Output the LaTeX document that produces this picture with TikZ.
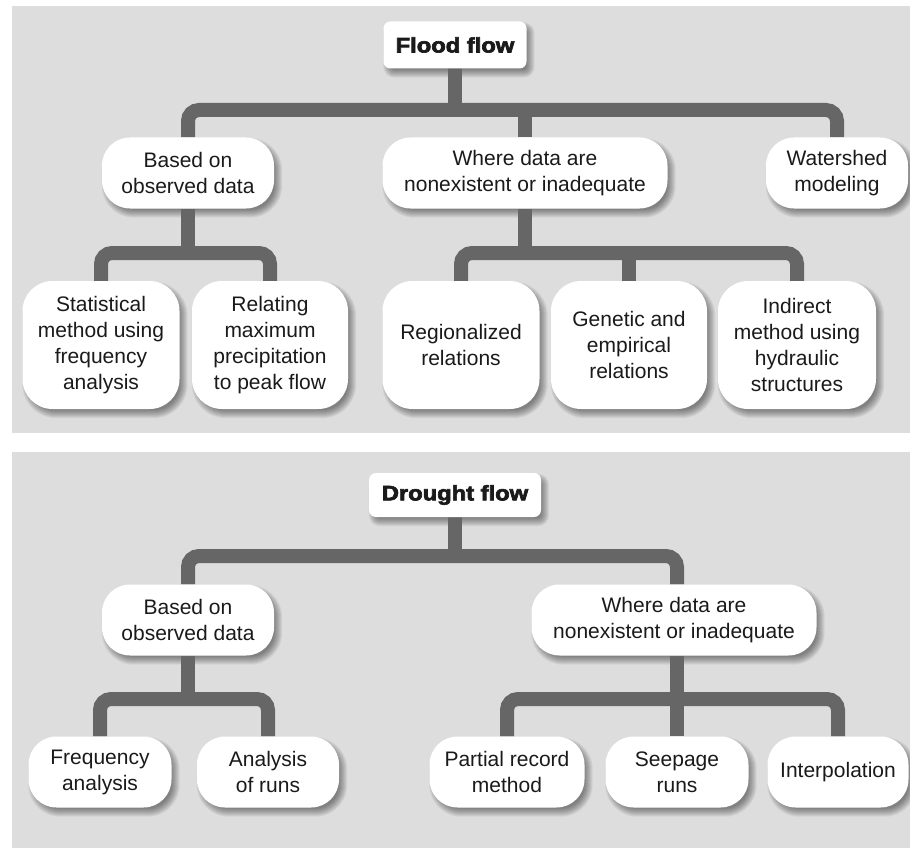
\documentclass[tikz,border=0pt]{standalone}
\usepackage{fontspec}
\usepackage{graphicx}
\setmainfont{Liberation Sans}
\newfontfamily\titlefont{Liberation Sans}[UprightFont={* Bold}, FakeBold=3]
\usetikzlibrary{calc}
\pgfdeclarelayer{bg}
\pgfdeclarelayer{shd}
\pgfdeclarelayer{conn}
\pgfsetlayers{bg,shd,conn,main}
\definecolor{panel}{HTML}{DDDDDD}
\definecolor{connc}{HTML}{666666}
\definecolor{txt}{HTML}{1A1A1A}
\newcommand\mytitle[1]{\scalebox{1.13}[1]{\titlefont #1}}
% soft shadow below and right of a node: #1 node name, #2 corner radius
\newcommand\softshadow[2]{%
  \begin{pgfonlayer}{shd}
  \foreach \d in {-4,-3,...,4}{
    \fill[black, fill opacity=0.055, rounded corners={(#2+\d)*1pt}]
      ($(#1.south west)+(4-\d,5+\d)$) rectangle ($(#1.north east)+(4+\d,5-\d)$);
  }
  \end{pgfonlayer}}
\begin{document}
\begin{tikzpicture}[x=1pt,y=-1pt,
  box/.style={draw=none, fill=white, rounded corners=#1, align=center, text=txt,
    inner sep=0pt, font=\fontsize{21}{26}\selectfont},
  box/.default=20pt,
  ttl/.style={box=7pt, minimum height=47pt},
  lvl/.style={box=28pt, minimum height=71pt},
  sub/.style={box=30pt, minimum height=128pt},
  conn/.style={draw=connc, line width=14pt, rounded corners=11pt}]
\useasboundingbox (0,0) rectangle (910,848);
\begin{pgfonlayer}{bg}
  \fill[white] (0,0) rectangle (910,848);
  \fill[panel] (12,6) rectangle (910,433);
  \fill[panel] (12,452) rectangle (910,848);
\end{pgfonlayer}

% ---- Flood flow ----
\node[ttl, minimum width=143pt] (ff) at (455,45) {\mytitle{Flood flow}};
\node[lvl, minimum width=172pt] (b1) at (188,173) {Based on\\observed data};
\node[lvl, minimum width=285pt] (w1) at (525,173) {Where data are\\nonexistent or inadequate};
\node[lvl, minimum width=142pt] (ws) at (837,173) {Watershed\\modeling};
\node[sub, minimum width=157pt] (s1) at (101,345) {Statistical\\method using\\frequency\\analysis};
\node[sub, minimum width=156pt] (r1) at (270,345) {Relating\\maximum\\precipitation\\to peak flow};
\node[sub, minimum width=157pt] (rg) at (461,345) {Regionalized\\relations};
\node[sub, minimum width=156pt] (ge) at (629,345) {Genetic and\\empirical\\relations};
\node[sub, minimum width=158pt] (id) at (797,345) {Indirect\\method using\\hydraulic\\structures};
\softshadow{ff}{7}
\softshadow{b1}{28}\softshadow{w1}{28}\softshadow{ws}{28}
\softshadow{s1}{30}\softshadow{r1}{30}\softshadow{rg}{30}\softshadow{ge}{30}\softshadow{id}{30}

\coordinate (j1) at (455,110);
\coordinate (j2) at (188,253);
\coordinate (j3) at (525,253);
\begin{pgfonlayer}{conn}
  \draw[conn] (ff.center) -- (j1);
  \draw[conn] (b1.north) |- (j1) -| (ws.north);
  \draw[conn] (w1.north) -- (w1.north |- j1);
  \draw[conn] (b1.south) -- (j2);
  \draw[conn] (s1.north) |- (j2) -| (r1.north);
  \draw[conn] (w1.south) -- (j3);
  \draw[conn] (rg.north) |- (j3) -| (id.north);
  \draw[conn] (ge.north) -- (ge.north |- j3);
\end{pgfonlayer}

% ---- Drought flow ----
\node[ttl, minimum width=172pt, minimum height=44pt] (df) at (455,495) {\mytitle{Drought flow}};
\node[lvl, minimum width=172pt] (b2) at (188,620) {Based on\\observed data};
\node[lvl, minimum width=285pt] (w2) at (674,620) {Where data are\\nonexistent or inadequate};
\node[lvl, minimum width=143pt] (fa) at (100,772) {Frequency\\analysis};
\node[lvl, minimum width=142pt] (ar) at (268,772) {Analysis\\of runs};
\node[lvl, minimum width=155pt] (pr) at (507,772) {Partial record\\method};
\node[lvl, minimum width=143pt] (sr) at (677,772) {Seepage\\runs};
\node[lvl, minimum width=141pt] (ip) at (838,772) {Interpolation};
\softshadow{df}{7}
\softshadow{b2}{28}\softshadow{w2}{28}
\softshadow{fa}{28}\softshadow{ar}{28}\softshadow{pr}{28}\softshadow{sr}{28}\softshadow{ip}{28}

\coordinate (j4) at (455,556);
\coordinate (j5) at (188,699);
\coordinate (j6) at (677,699);
\begin{pgfonlayer}{conn}
  \draw[conn] (df.center) -- (j4);
  \draw[conn] (b2.north) |- (j4) -| (sr.north |- w2.north);
  \draw[conn] (b2.south) -- (j5);
  \draw[conn] (fa.north) |- (j5) -| (ar.north);
  \draw[conn] (sr.north |- w2.south) -- (j6);
  \draw[conn] (pr.north) |- (j6) -| (ip.north);
  \draw[conn] (sr.north) -- (sr.north |- j6);
\end{pgfonlayer}
\end{tikzpicture}
\end{document}
